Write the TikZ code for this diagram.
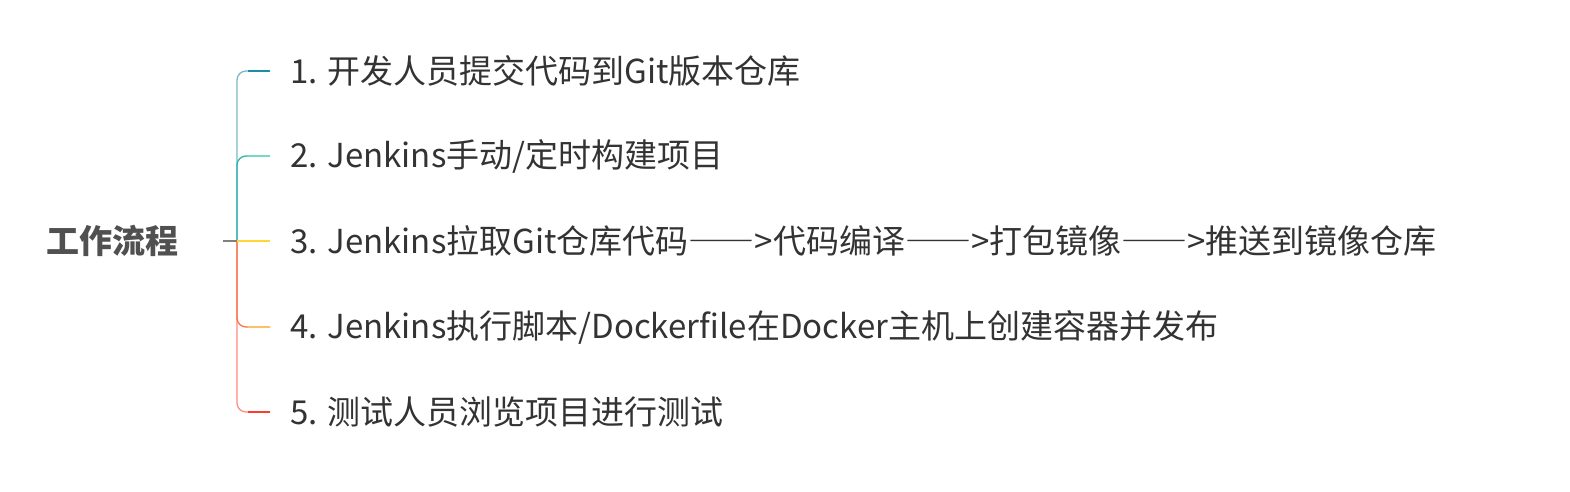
\documentclass[tikz,border=0pt]{standalone}
\usepackage{fontspec}
\setmainfont{Noto Sans CJK SC}
\newfontfamily\fwfont[RawFeature=+fwid]{Noto Sans CJK SC}
\usepackage{tikz}
\usetikzlibrary{positioning,calc}
\definecolor{rootgray}{HTML}{505050}
\definecolor{textgray}{HTML}{333333}
\definecolor{trunkA}{HTML}{7AB8C9}
\definecolor{leafA}{HTML}{1A8FA6}
\definecolor{trunkB}{HTML}{2DB5AD}
\definecolor{leafB}{HTML}{72D9CB}
\definecolor{leafC}{HTML}{FFD633}
\definecolor{trunkD}{HTML}{FF7043}
\definecolor{leafD}{HTML}{FFBF66}
\definecolor{trunkE}{HTML}{FF8A80}
\definecolor{leafE}{HTML}{FF3B2F}
\newcommand{\longdash}{{\fwfont ——}}
\tikzset{
  mm/root/.style={font=\fontsize{33}{38}\selectfont\bfseries, text=rootgray, inner xsep=45pt, inner ysep=0pt},
  mm/item/.style={anchor=west, font=\fontsize{33}{38}\selectfont, text=textgray, inner xsep=20pt, inner ysep=0pt},
  mm/branch/.style={line width=1.3pt, rounded corners=9pt},
  mm/stub/.style={line width=1.3pt, draw=gray}
}
\begin{document}
\begin{tikzpicture}[x=1pt, y=-1pt]
  \useasboundingbox (0,0) rectangle (1570,491);

  \node[mm/root] (root) at (112,241) {工作流程};
  \coordinate (hub) at (237,241);

  \node[mm/item] (s1) at (270,71) {1. 开发人员提交代码到Git版本仓库};
  \node[mm/item] (s2) at (270,156) {2. Jenkins手动/定时构建项目};
  \node[mm/item] (s3) at (270,241) {3. Jenkins拉取Git仓库代码\longdash>代码编译\longdash>打包镜像\longdash>推送到镜像仓库};
  \node[mm/item] (s4) at (270,327) {4. Jenkins执行脚本/Dockerfile在Docker主机上创建容器并发布};
  \node[mm/item] (s5) at (270,412) {5. 测试人员浏览项目进行测试};

  % branches, outer ones first
  \draw[mm/branch, trunkA] (hub) |- (s1.west);
  \draw[mm/branch, trunkE] (hub) |- (s5.west);
  \draw[mm/branch, trunkB] (hub) |- (s2.west);
  \draw[mm/branch, trunkD] (hub) |- (s4.west);
  \draw[mm/branch, leafC] (hub) -- (s3.west);

  % leaf colours on the horizontal ends
  \draw[line width=1.3pt, leafA] ([xshift=-22pt]s1.west) -- (s1.west);
  \draw[line width=1.3pt, leafB] ([xshift=-22pt]s2.west) -- (s2.west);
  \draw[line width=1.3pt, leafD] ([xshift=-22pt]s4.west) -- (s4.west);
  \draw[line width=1.3pt, leafE] ([xshift=-22pt]s5.west) -- (s5.west);

  \draw[mm/stub] (root.east) -- (hub);
\end{tikzpicture}
\end{document}
